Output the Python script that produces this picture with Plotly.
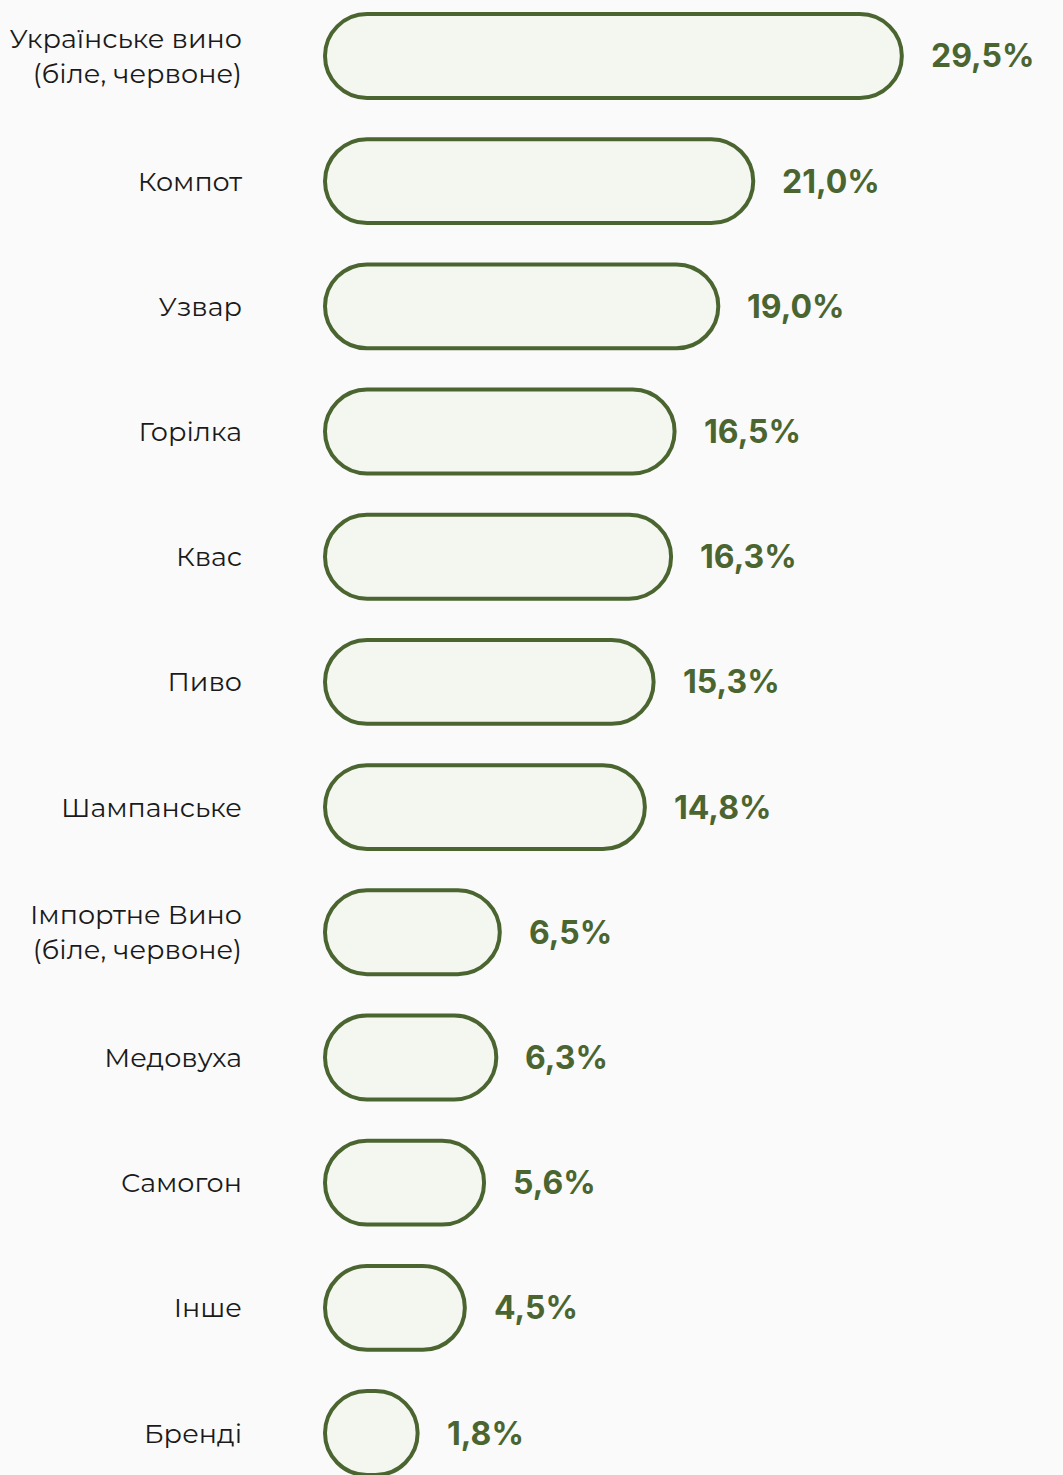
import plotly.graph_objects as go

# Data
categories = [
    "Українське вино<br>(біле, червоне)",
    "Компот",
    "Узвар",
    "Горілка",
    "Квас",
    "Пиво",
    "Шампанське",
    "Імпортне Вино<br>(біле, червоне)",
    "Медовуха",
    "Самогон",
    "Інше",
    "Бренді",
]
values = [29.5, 21.0, 19.0, 16.5, 16.3, 15.3, 14.8, 6.5, 6.3, 5.6, 4.5, 1.8]
labels = [f"{v:.1f}%".replace(".", ",") for v in values]

green = "#4b6530"
fill = "#f4f6f0"
bg = "#fafafa"

# pill caps need a minimum length, so bars start a bit left of zero
base_offset = -3.5
px_per_unit = 17.48

fig = go.Figure()
# an array base makes plotly round both ends of the bar -> pill shape
fig.add_trace(go.Bar(
    y=categories,
    x=[v - base_offset for v in values],
    base=[base_offset] * len(values),
    orientation="h",
    width=0.67,
    marker=dict(color=fill, line=dict(color=green, width=4), cornerradius="50%"),
    hoverinfo="skip",
))

for cat, v, lab in zip(categories, values, labels):
    fig.add_annotation(
        x=v, y=cat, text=f"<b>{lab}</b>", showarrow=False,
        xanchor="left", yanchor="middle", xshift=27,
        font=dict(family="Inter, Roboto, sans-serif", size=32, color=green),
    )

left_pad = 25 / px_per_unit
fig.update_layout(
    width=1063, height=1475,
    margin=dict(l=300, r=0, t=0, b=0),
    paper_bgcolor=bg, plot_bgcolor=bg,
    showlegend=False,
    xaxis=dict(range=[base_offset - left_pad, base_offset - left_pad + 763 / px_per_unit],
               visible=False, fixedrange=True),
    yaxis=dict(
        type="category", range=[11.335, -0.447], autorange=False,
        showgrid=False, zeroline=False, showline=False, ticks="",
        ticklabelstandoff=57,
        tickfont=dict(family="Montserrat, 'Noto Sans', Inter, sans-serif", size=27, color="#1a1a1a"),
        fixedrange=True,
    ),
)

fig.write_html("out.html", config={"displayModeBar": False},
               post_script="document.body.style.margin='0px';")
